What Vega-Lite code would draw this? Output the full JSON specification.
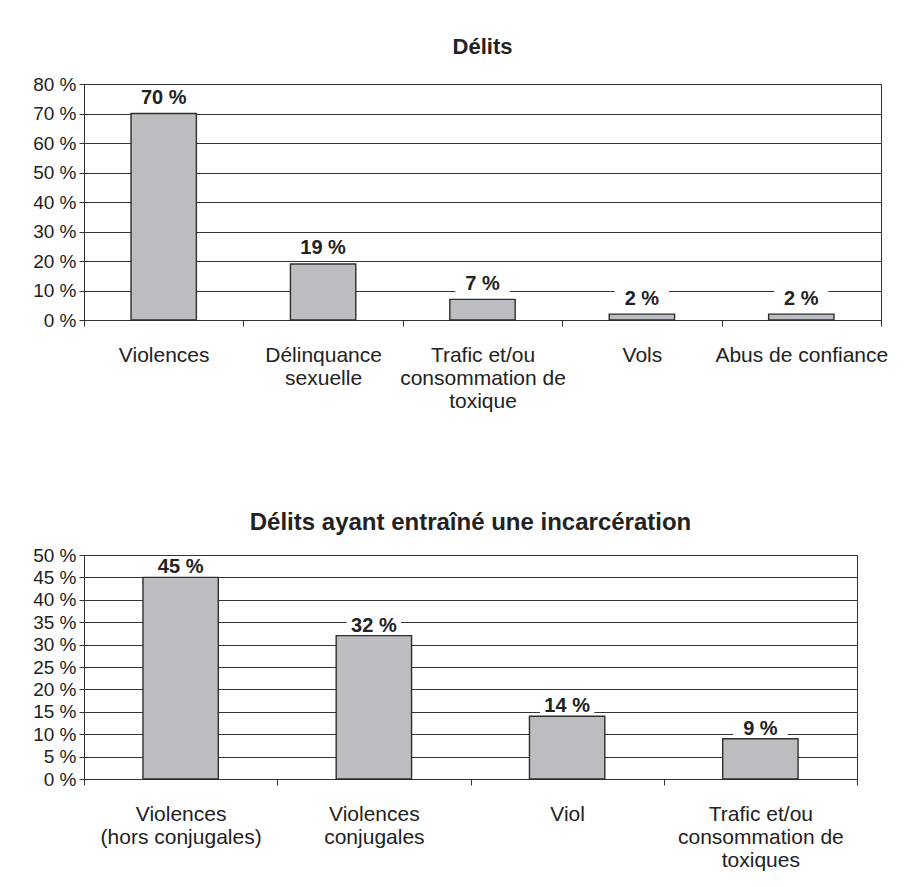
{
  "$schema": "https://vega.github.io/schema/vega-lite/v6.json",
  "background": "white",
  "padding": {"left": 32, "top": 35, "right": 0, "bottom": 0},
  "config": {
    "font": "Liberation Sans",
    "view": {"stroke": "#333333", "strokeWidth": 1},
    "axis": {
      "labelFont": "Liberation Sans",
      "labelColor": "#222222",
      "labelFontSize": 21,
      "labelOverlap": false,
      "domainColor": "#333333",
      "tickColor": "#333333",
      "gridColor": "#333333",
      "gridOpacity": 1,
      "title": null
    },
    "title": {"font": "Liberation Sans", "fontSize": 22, "fontWeight": "bold", "color": "#222222", "anchor": "middle", "offset": 16},
    "concat": {"spacing": 98}
  },
  "vconcat": [
    {
      "title": "Délits",
      "width": 797,
      "height": 236,
      "data": {
        "values": [
          {"delit": "Violences", "part": 70},
          {"delit": "Délinquance|sexuelle", "part": 19},
          {"delit": "Trafic et/ou|consommation de|toxique", "part": 7},
          {"delit": "Vols", "part": 2},
          {"delit": "Abus de confiance", "part": 2}
        ]
      },
      "transform": [{"calculate": "datum.part + ' %'", "as": "etiquette"}],
      "encoding": {
        "x": {
          "field": "delit",
          "type": "nominal",
          "sort": null,
          "scale": {"paddingInner": 0, "paddingOuter": 0},
          "axis": {
            "labelAngle": 0,
            "labelExpr": "split(datum.label, '|')",
            "labelLineHeight": 23,
            "labelBaseline": "top",
            "labelLimit": 400,
            "labelPadding": 18,
            "tickBand": "extent",
            "tickSize": 6,
            "grid": false
          }
        },
        "y": {
          "field": "part",
          "type": "quantitative",
          "scale": {"domain": [0, 80], "nice": false},
          "axis": {
            "values": [0, 10, 20, 30, 40, 50, 60, 70, 80],
            "labelExpr": "datum.value + ' %'",
            "labelFontSize": 19,
            "tickSize": 5,
            "labelPadding": 3,
            "grid": true
          }
        }
      },
      "layer": [
        {
          "mark": {"type": "bar", "fill": "#bcbdc1", "stroke": "#2e2e2e", "strokeWidth": 1.4, "width": {"band": 0.41}}
        },
        {
          "mark": {"type": "point", "shape": "M-1.6,-0.5H1.6V0.5H-1.6Z", "filled": true, "fill": "white", "opacity": 1, "strokeOpacity": 0, "size": 1156, "yOffset": -15.5}
        },
        {
          "mark": {"type": "text", "fontWeight": "bold", "fontSize": 20, "baseline": "middle", "dy": -15.5, "color": "#222222"},
          "encoding": {"text": {"field": "etiquette"}}
        }
      ]
    },
    {
      "title": {"text": "Délits ayant entraîné une incarcération", "fontSize": 24, "offset": 11},
      "width": 773,
      "height": 224,
      "data": {
        "values": [
          {"delit": "Violences|(hors conjugales)", "part": 45},
          {"delit": "Violences|conjugales", "part": 32},
          {"delit": "Viol", "part": 14},
          {"delit": "Trafic et/ou|consommation de|toxiques", "part": 9}
        ]
      },
      "transform": [{"calculate": "datum.part + ' %'", "as": "etiquette"}],
      "encoding": {
        "x": {
          "field": "delit",
          "type": "nominal",
          "sort": null,
          "scale": {"paddingInner": 0, "paddingOuter": 0},
          "axis": {
            "labelAngle": 0,
            "labelExpr": "split(datum.label, '|')",
            "labelLineHeight": 23,
            "labelBaseline": "top",
            "labelLimit": 400,
            "labelPadding": 18,
            "tickBand": "extent",
            "tickSize": 6,
            "grid": false
          }
        },
        "y": {
          "field": "part",
          "type": "quantitative",
          "scale": {"domain": [0, 50], "nice": false},
          "axis": {
            "values": [0, 5, 10, 15, 20, 25, 30, 35, 40, 45, 50],
            "labelExpr": "datum.value + ' %'",
            "labelFontSize": 19,
            "tickSize": 5,
            "labelPadding": 3,
            "grid": true
          }
        }
      },
      "layer": [
        {
          "mark": {"type": "bar", "fill": "#bcbdc1", "stroke": "#2e2e2e", "strokeWidth": 1.4, "width": {"band": 0.39}}
        },
        {
          "mark": {"type": "point", "shape": "M-1.6,-0.5H1.6V0.5H-1.6Z", "filled": true, "fill": "white", "opacity": 1, "strokeOpacity": 0, "size": 1156, "yOffset": -10}
        },
        {
          "mark": {"type": "text", "fontWeight": "bold", "fontSize": 20, "baseline": "middle", "dy": -10, "color": "#222222"},
          "encoding": {"text": {"field": "etiquette"}}
        }
      ]
    }
  ]
}
